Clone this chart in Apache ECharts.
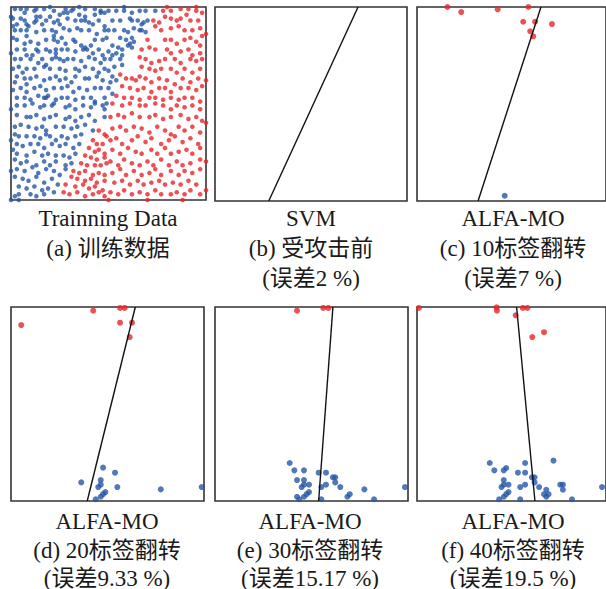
<!DOCTYPE html>
<html><head><meta charset="utf-8">
<script src="https://cdn.jsdelivr.net/npm/echarts@6/dist/echarts.min.js"></script>
<style>html,body{margin:0;padding:0;background:#fff}#c{width:606px;height:589px}</style>
</head><body><div id="c"></div>
<script>
// ---- (a) training data, 0-100 units ----
const trainBlue = [
[2,99],[5,99],[8,99],[12,98],[13,99],[17,99],[22,98],[28,99],[32,99],[38,99],[43,99],[46,98],[25,96],[27,97],[29,97],[31,98],[35,96],[38,95],[43,96],[46,97],[48,97],[20,95],[13,95],[15,95],[7,97],[1,94],
[5,94],[7,93],[8,91],[9,90],[12,92],[13,93],[16,91],[18,93],[22,92],[24,93],[25,91],[29,94],[33,93],[36,93],[38,93],[40,92],[42,91],[45,93],[48,90],[1,90],[3,91],
[2,88],[5,88],[8,88],[13,87],[17,88],[21,88],[23,87],[27,89],[30,88],[34,89],[36,88],[40,88],[44,86],[48,88],[22,85],[8,85],
[1,84],[3,83],[10,82],[14,81],[18,83],[22,83],[24,82],[26,84],[28,81],[32,83],[33,82],[36,80],[38,79],[41,80],[43,83],[47,83],[49,84],[7,81],
[3,78],[7,78],[13,78],[14,77],[18,78],[20,77],[23,78],[23,76],[26,78],[29,78],[33,77],[37,78],[39,78],[42,76],[45,78],[47,75],[8,75],[11,75],
[2,73],[5,73],[10,73],[16,73],[21,73],[23,74],[25,73],[27,72],[29,73],[32,73],[36,72],[40,74],[43,73],[46,71],[48,73],[18,70],[14,71],
[4,69],[8,68],[12,68],[17,69],[20,68],[25,68],[28,67],[33,68],[35,67],[38,69],[42,68],[45,66],[48,68],[6,66],[1,68],
[3,64],[7,63],[10,63],[13,64],[17,62],[20,63],[23,64],[25,62],[28,63],[31,61],[33,64],[38,63],[40,63],[44,64],[47,62],[8,60],[2,61],
[5,58],[12,58],[15,59],[18,57],[22,58],[26,58],[29,59],[32,56],[35,58],[39,57],[43,58],[46,58],[1,57],[8,56],
[3,53],[7,53],[10,52],[14,54],[17,53],[18,53],[19,54],[23,52],[26,53],[29,53],[33,52],[37,53],[41,53],[43,51],[48,53],
[50,98],[54,98],[58,98],[62,97],[66,98],[69,98],[74,98],[52,93],[56,93],[61,94],[62,93],[65,93],[67,91],[68,92],[70,93],
[50,88],[53,88],[58,88],[60,87],[63,89],[66,88],[67,88],[69,87],[56,84],[59,83],[62,84],[63,82],
[52,80],[55,79],[57,78],[60,80],[62,79],[50,77],[52,75],[54,76],[57,75],[51,73],[56,73],[57,70],[53,69],[61,81],
[50,67],[52,64],[51,61],[54,62],[50,58],[52,55],[49,50],
[3,49],[7,49],[11,50],[15,48],[17,49],[21,49],[22,50],[28,48],[30,49],[33,47],[37,49],[41,48],[43,50],[47,49],[48,47],
[3,44],[8,43],[10,43],[13,44],[17,42],[20,43],[23,44],[28,42],[30,43],[33,41],[36,43],[40,44],[43,41],[48,43],
[2,38],[5,39],[9,38],[13,37],[16,38],[18,36],[23,38],[27,38],[31,37],[34,38],[38,39],[42,36],
[2,34],[4,33],[8,33],[12,33],[15,32],[18,34],[20,33],[23,31],[26,33],[29,32],[33,33],[36,34],
[3,29],[6,28],[10,29],[14,29],[17,27],[21,29],[25,28],[28,29],[32,27],[35,29],
[1,26],[3,24],[8,23],[12,25],[16,23],[19,24],[23,23],[27,23],[30,22],[33,24],
[2,21],[5,19],[8,20],[13,18],[17,20],[20,18],[23,20],[28,18],[31,19],
[3,16],[7,15],[11,17],[14,14],[18,16],[22,15],[25,13],[28,16],
[2,12],[6,11],[9,10],[13,12],[17,9],[21,11],[24,8],
[4,7],[8,6],[12,7],[16,5],[19,6],[22,4],
[2,2],[4,3],[10,3],[13,2],[17,3],
[0,95],[0,76],[0,47],[0,31],[0,15],[0,0],[4,0],[20,100],[35,100],[58,100]
];
const trainRed = [
[78,98],[82,98],[87,99],[91,99],[95,98],[98,97],[73,93],[76,92],[79,95],[82,94],[85,93],[87,94],[90,96],[92,93],[96,93],
[74,90],[77,88],[82,89],[86,90],[89,88],[93,88],[97,89],[98,85],[70,83],[79,83],[82,83],[85,81],[89,83],[92,84],[95,82],[97,80],
[67,78],[71,79],[74,78],[80,78],[82,76],[87,77],[91,78],[93,75],[97,76],
[66,74],[69,73],[72,71],[76,72],[79,73],[84,73],[87,71],[92,73],[95,72],[98,73],
[67,69],[71,68],[74,67],[77,68],[82,68],[85,66],[89,68],[93,66],[97,68],
[56,65],[59,63],[62,63],[64,62],[66,64],[69,63],[72,61],[76,63],[80,62],[84,60],[88,63],[92,61],[96,63],
[57,59],[61,58],[65,57],[68,58],[72,56],[76,58],[79,58],[82,56],[87,58],[91,58],[95,57],[98,59],
[54,54],[58,53],[62,53],[66,52],[71,53],[74,53],[78,52],[82,53],[86,52],[89,53],[93,53],[97,51],
[45,36],[48,34],[49,33],[42,31],[44,29],[47,29],[40,27],[43,25],[45,26],[48,24],[38,23],[41,22],[44,21],[48,22],
[36,19],[39,18],[43,18],[46,18],[49,19],[32,15],[35,14],[38,15],[42,13],[45,14],[48,13],[31,12],[34,11],[38,10],[41,11],[44,9],[48,10],
[28,8],[33,7],[37,8],[40,6],[43,7],[47,5],[27,4],[30,3],[34,4],[38,2],[42,3],[45,4],[48,2],
[52,50],[57,49],[61,50],[66,49],[69,49],[74,50],[78,49],[82,47],[85,49],[89,48],[93,49],[97,47],
[51,43],[55,44],[58,43],[62,45],[66,43],[71,43],[74,44],[78,42],[82,43],[87,44],[91,42],[95,43],[98,41],
[52,37],[56,38],[59,36],[63,38],[67,37],[71,35],[75,38],[79,36],[82,34],[86,38],[89,36],[93,38],[97,35],
[51,31],[54,32],[57,29],[62,31],[65,33],[69,30],[72,32],[77,29],[81,31],[84,33],[88,30],[92,32],[96,29],
[52,26],[56,24],[60,27],[64,25],[67,24],[72,26],[75,24],[79,27],[82,24],[86,25],[90,26],[93,24],[97,27],
[51,20],[55,18],[58,21],[62,19],[66,18],[70,20],[73,18],[77,21],[81,18],[85,20],[88,18],[92,19],[97,21],
[52,14],[56,16],[59,13],[63,15],[67,13],[71,14],[74,16],[77,13],[82,15],[86,13],[89,15],[93,14],[97,16],
[53,9],[57,10],[61,8],[65,10],[68,8],[72,9],[76,10],[79,8],[83,9],[87,8],[91,10],[95,8],
[51,4],[55,3],[58,5],[62,3],[66,4],[70,3],[74,5],[77,3],[82,3],[85,4],[89,3],[92,5],[97,3],
[50,0],[70,0],[88,0],[80,100],[95,100],[100,86],[100,62],[100,40],[100,20],[100,5]
];
// ---- (b)-(f), 0-1 units ----
const svmLine = [[0.28,0],[0.745,1]];
const f10Line = [[0.323,0],[0.656,1]];
const f10Red = [[0.161,1.0],[0.234,0.974],[0.427,0.988],[0.589,1.0],[0.562,0.924],[0.625,0.924],[0.714,0.912],[0.599,0.875],[0.615,0.849]];
const f10Blue = [[0.464,0.027]];
const f20Line = [[0.395,0],[0.644,1]];
const f20Red = [[0.053,0.907],[0.426,0.981],[0.565,0.995],[0.589,0.995],[0.565,0.919],[0.627,0.919],[0.615,0.845]];
const f20Blue = [[0.477,0.172],[0.539,0.146],[0.364,0.096],[0.465,0.108],[0.465,0.084],[0.452,0.072],[0.551,0.072],[0.489,0.046],[0.477,0.035],[0.465,0.022],[0.439,0.009],[0.776,0.060],[0.988,0.072]];
const f30Line = [[0.537,0],[0.611,1]];
const f30Red = [[0.425,0.981],[0.561,0.995],[0.587,0.995]];
const f30Blue = [[0.387,0.196],[0.411,0.158],[0.461,0.158],[0.537,0.146],[0.575,0.146],[0.425,0.108],[0.461,0.108],[0.611,0.122],[0.623,0.122],[0.623,0.096],[0.461,0.084],[0.487,0.084],[0.449,0.072],[0.551,0.072],[0.575,0.084],[0.649,0.072],[0.774,0.060],[0.487,0.046],[0.475,0.035],[0.461,0.022],[0.425,0.022],[0.437,0.009],[0.551,0.009],[0.698,0.035],[0.686,0.022],[0.824,0.009],[0.984,0.072]];
const f40Line = [[0.624,0],[0.527,1]];
const f40Red = [[0.010,0.995],[0.421,0.998],[0.423,0.981],[0.522,0.957],[0.560,0.995],[0.584,0.995],[0.610,0.845],[0.672,0.870]];
const f40Blue = [[0.385,0.196],[0.409,0.158],[0.459,0.158],[0.472,0.170],[0.534,0.146],[0.572,0.146],[0.572,0.196],[0.722,0.208],[0.459,0.108],[0.608,0.122],[0.622,0.122],[0.622,0.096],[0.447,0.072],[0.459,0.084],[0.484,0.084],[0.546,0.072],[0.572,0.084],[0.646,0.072],[0.684,0.058],[0.758,0.084],[0.772,0.084],[0.772,0.058],[0.484,0.046],[0.472,0.035],[0.459,0.022],[0.435,0.009],[0.546,0.009],[0.672,0.035],[0.684,0.022],[0.696,0.035],[0.820,0.009],[0.979,0.072]];
const captions = [
  ['Trainning Data','(a) 训练数据'],
  ['SVM','(b) 受攻击前','(误差2 %)'],
  ['ALFA-MO','(c) 10标签翻转','(误差7 %)'],
  ['ALFA-MO','(d) 20标签翻转','(误差9.33 %)'],
  ['ALFA-MO','(e) 30标签翻转','(误差15.17 %)'],
  ['ALFA-MO','(f) 40标签翻转','(误差19.5 %)']
];

const BLUE = '#2556a6', RED = '#e8262a';
const panels = [
  {l:11, t:7, w:195, h:193, max:100, blue:trainBlue, red:trainRed, line:null, size:4.6},
  {l:215,t:7, w:192, h:194, max:1, blue:[], red:[], line:svmLine, size:6},
  {l:417,t:7, w:193, h:194, max:1, blue:f10Blue, red:f10Red, line:f10Line, size:6},
  {l:11, t:307,w:193, h:194, max:1, blue:f20Blue, red:f20Red, line:f20Line, size:6},
  {l:215,t:307,w:193, h:194, max:1, blue:f30Blue, red:f30Red, line:f30Line, size:6},
  {l:417,t:307,w:193, h:194, max:1, blue:f40Blue, red:f40Red, line:f40Line, size:6}
];
const capCenters = [108, 311, 513, 107, 310, 513];
const capRows = [[218,248,278],[218,248,278],[218,248,278],[521,550,578],[521,550,578],[521,550,578]];

const grid=[], xAxis=[], yAxis=[], series=[], graphic=[];
panels.forEach((p,i)=>{
  grid.push({left:p.l, top:p.t, width:p.w, height:p.h, show:true, borderColor:'#333', borderWidth:1.6, backgroundColor:'transparent'});
  xAxis.push({type:'value', gridIndex:i, min:0, max:p.max, show:false});
  yAxis.push({type:'value', gridIndex:i, min:0, max:p.max, show:false});
  if (p.blue.length) series.push({type:'scatter', xAxisIndex:i, yAxisIndex:i, data:p.blue, symbolSize:p.size, itemStyle:{color:BLUE}, clip:false, z:3});
  if (p.red.length) series.push({type:'scatter', xAxisIndex:i, yAxisIndex:i, data:p.red, symbolSize:p.size, itemStyle:{color:RED}, clip:false, z:3});
  if (p.line) series.push({type:'line', xAxisIndex:i, yAxisIndex:i, data:p.line, showSymbol:false, symbol:'none', lineStyle:{color:'#111', width:1.4}, z:4});
  captions[i].forEach((txt,j)=>{
    graphic.push({type:'text', x:capCenters[i], y:capRows[i][j], style:{text:txt, fill:'#1a1a1a', font:'23px "Liberation Serif", "Noto Sans CJK SC"', textAlign:'center', textVerticalAlign:'middle'}});
  });
});

const chart = echarts.init(document.getElementById('c'), null, {renderer:'svg'});
chart.setOption({animation:false, grid, xAxis, yAxis, series, graphic});
</script></body></html>
